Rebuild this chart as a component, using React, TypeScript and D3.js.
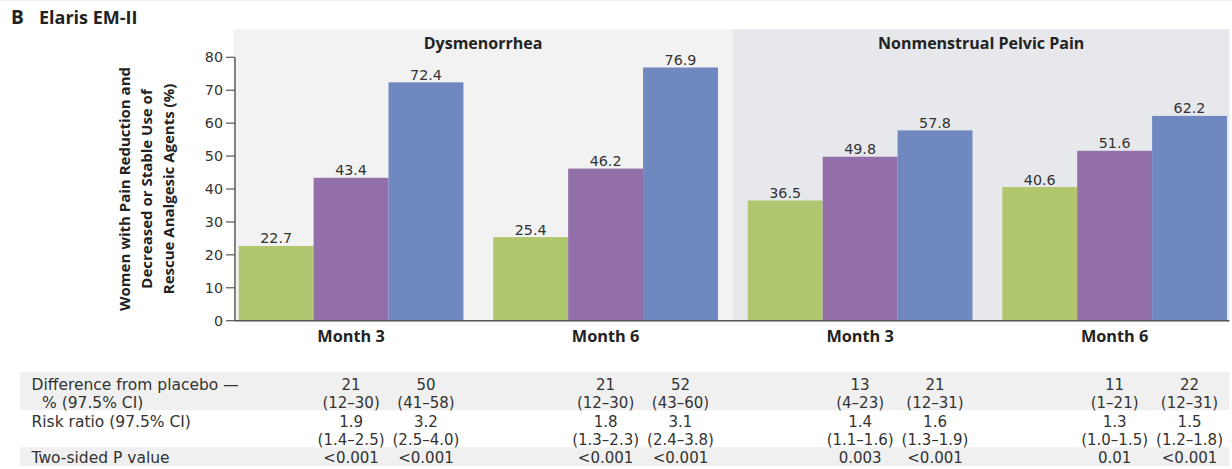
import React from "react";
import * as d3 from "d3";

const groupIds = ["dys-m3", "dys-m6", "nmpp-m3", "nmpp-m6"];
const monthLabels = ["Month 3", "Month 6", "Month 3", "Month 6"];
const panelTitles = ["Dysmenorrhea", "Nonmenstrual Pelvic Pain"];
const seriesNames = ["Placebo", "Elagolix 150 mg", "Elagolix 200 mg"];
const placebo = [22.7, 25.4, 36.5, 40.6];
const elagolix150 = [43.4, 46.2, 49.8, 51.6];
const elagolix200 = [72.4, 76.9, 57.8, 62.2];
const yTicks = [0, 10, 20, 30, 40, 50, 60, 70, 80];

const diff150 = ["21", "21", "13", "11"];
const diffCI150 = ["(12–30)", "(12–30)", "(4–23)", "(1–21)"];
const diff200 = ["50", "52", "21", "22"];
const diffCI200 = ["(41–58)", "(43–60)", "(12–31)", "(12–31)"];
const rr150 = ["1.9", "1.8", "1.4", "1.3"];
const rrCI150 = ["(1.4–2.5)", "(1.3–2.3)", "(1.1–1.6)", "(1.0–1.5)"];
const rr200 = ["3.2", "3.1", "1.6", "1.5"];
const rrCI200 = ["(2.5–4.0)", "(2.4–3.8)", "(1.3–1.9)", "(1.2–1.8)"];
const p150 = ["<0.001", "<0.001", "0.003", "0.01"];
const p200 = ["<0.001", "<0.001", "<0.001", "<0.001"];
const rowLabels = ["Difference from placebo —", "% (97.5% CI)", "Risk ratio (97.5% CI)", "", "Two-sided P value"];

const colors = ["#b1c76f", "#9370a9", "#6f88bf"];
const W = 1232;
const H = 469;
const boldFont = "'Open Sans', 'Noto Sans', sans-serif";
const numFont = "'DejaVu Sans', sans-serif";

export default function App() {
  const values = [placebo, elagolix150, elagolix200];
  const x = d3.scaleBand<string>().domain(groupIds).range([238.7, 1227]).paddingInner(0.117);
  const bw = x.bandwidth();
  const xs = d3.scaleBand<string>().domain(seriesNames).range([0, bw]);
  const y = d3.scaleLinear().domain([0, 80]).range([320.7, 57.3]);
  const plotLeft = 233.3;
  const plotRight = 1229.5;
  const plotTop = 29.3;
  const axisX = 235;
  const boundary = ((x(groupIds[1]) as number) + bw + (x(groupIds[2]) as number)) / 2;
  const panelRanges = [
    [plotLeft, boundary],
    [boundary, plotRight],
  ];
  const panelFills = ["#f2f2f2", "#e6e8eb"];

  const rowBaselines = [390, 408.3, 426.6, 444.9, 463.2];
  const tableRows150 = [diff150, diffCI150, rr150, rrCI150, p150];
  const tableRows200 = [diff200, diffCI200, rr200, rrCI200, p200];
  const col1 = (i: number) => (x(groupIds[i]) as number) + (xs(seriesNames[1]) as number) + xs.bandwidth() / 2;
  const col2 = (i: number) => (x(groupIds[i]) as number) + (xs(seriesNames[2]) as number) + xs.bandwidth() / 2;

  const yTitle = ["Women with Pain Reduction and", "Decreased or Stable Use of", "Rescue Analgesic Agents (%)"];
  const yCenter = (y(0) + y(80)) / 2;

  return (
    <svg width={W} height={H} style={{ position: "absolute", left: 0, top: 0, background: "#fff" }}>
      <line x1={0} x2={W} y1={0.5} y2={0.5} stroke="#eeeeee" />
      <text x={11} y={24} fontFamily={boldFont} fontWeight={700} fontSize={19} fill="#222">B</text>
      <text x={39} y={24} fontFamily={boldFont} fontWeight={700} fontSize={18} fill="#222">Elaris EM-II</text>

      {panelRanges.map((r, i) => (
        <rect key={"p" + i} x={r[0]} y={plotTop} width={r[1] - r[0]} height={y(0) - plotTop} fill={panelFills[i]} />
      ))}
      {panelTitles.map((t, i) => (
        <text key={"pt" + i} x={(panelRanges[i][0] + panelRanges[i][1]) / 2} y={48.5} textAnchor="middle"
          fontFamily={boldFont} fontWeight={700} fontSize={16} fill="#222">{t}</text>
      ))}

      {groupIds.map((g, gi) => (
        <g key={g} transform={`translate(${x(g)},0)`}>
          {seriesNames.map((s, si) => {
            const v = values[si][gi];
            return (
              <g key={s}>
                <rect x={xs(s)} y={y(v)} width={xs.bandwidth()} height={y(0) - y(v)} fill={colors[si]} />
                <text x={(xs(s) as number) + xs.bandwidth() / 2} y={y(v) - 2.5} textAnchor="middle"
                  fontFamily={numFont} fontSize={14.3} fill="#333">{v.toFixed(1)}</text>
              </g>
            );
          })}
          <text x={bw / 2} y={341.5} textAnchor="middle" fontFamily={boldFont} fontWeight={700} fontSize={16.3} fill="#222">
            {monthLabels[gi]}
          </text>
        </g>
      ))}

      <line x1={axisX} x2={plotRight} y1={y(0)} y2={y(0)} stroke="#555" strokeWidth={1.4} />
      <line x1={axisX} x2={axisX} y1={y(80)} y2={y(0)} stroke="#555" strokeWidth={1.4} />
      {yTicks.map((t) => (
        <g key={"t" + t}>
          <line x1={226} x2={axisX} y1={y(t)} y2={y(t)} stroke="#555" strokeWidth={1.2} />
          <text x={223} y={y(t) + 5} textAnchor="end" fontFamily={numFont} fontSize={14.3} fill="#333">{t}</text>
        </g>
      ))}

      {yTitle.map((line, i) => (
        <text key={"yt" + i} transform={`translate(${130 + i * 22},${yCenter}) rotate(-90)`} textAnchor="middle"
          fontFamily={boldFont} fontWeight={700} fontSize={15} fill="#222">{line}</text>
      ))}

      <rect x={20} y={371.7} width={plotRight - 20} height={38.6} fill="#f0f0f0" />
      <rect x={20} y={447.3} width={plotRight - 20} height={19} fill="#f0f0f0" />
      {rowLabels.map((l, ri) => (
        <text key={"rl" + ri} x={ri === 1 ? 42 : 31.5} y={rowBaselines[ri]} fontFamily={numFont} fontSize={15.5} fill="#333">{l}</text>
      ))}
      {groupIds.map((g, gi) => (
        <g key={"tb" + g}>
          {rowBaselines.map((b, ri) => (
            <g key={ri}>
              <text x={col1(gi)} y={b} textAnchor="middle" fontFamily={numFont} fontSize={15} fill="#333">{tableRows150[ri][gi]}</text>
              <text x={col2(gi)} y={b} textAnchor="middle" fontFamily={numFont} fontSize={15} fill="#333">{tableRows200[ri][gi]}</text>
            </g>
          ))}
        </g>
      ))}
    </svg>
  );
}
